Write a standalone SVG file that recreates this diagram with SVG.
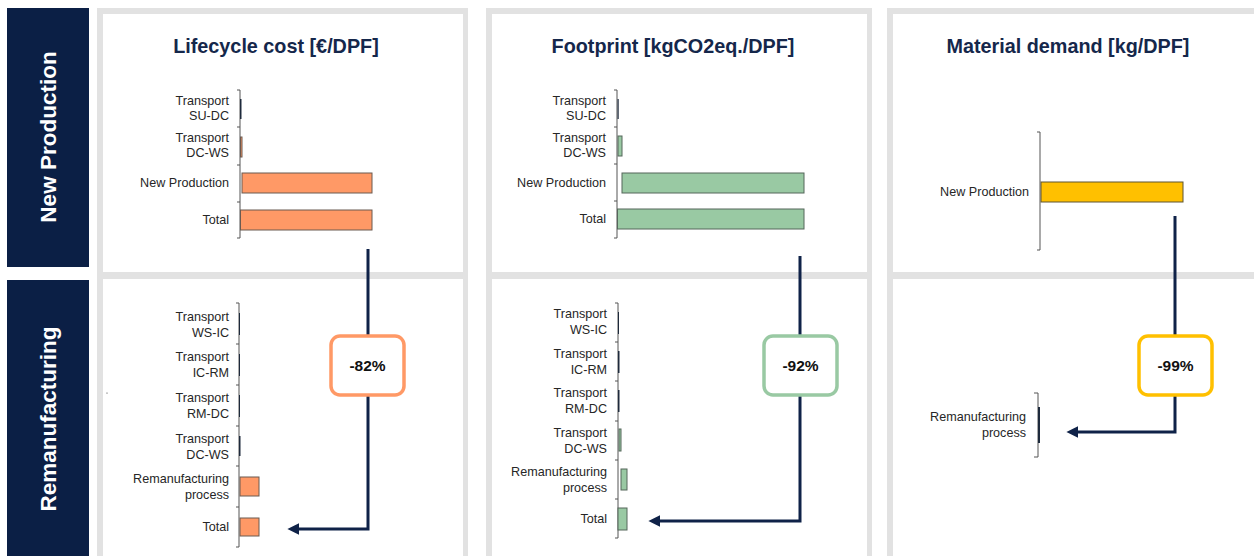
<svg xmlns="http://www.w3.org/2000/svg" width="1254" height="556" viewBox="0 0 1254 556">
  <defs>
    <style>
      .side { fill: #0b1f45; }
      .side-text { font-family: "Liberation Sans", Arial, sans-serif; font-size: 22.5px; font-weight: bold; fill: #ffffff; text-anchor: middle; }
      .frame { fill: #e2e2e2; }
      .cell { fill: #ffffff; }
      .title { font-family: "Liberation Sans", Arial, sans-serif; font-size: 19.8px; font-weight: bold; fill: #15274b; text-anchor: middle; }
      .lbl { font-family: "Liberation Sans", Arial, sans-serif; font-size: 12.6px; fill: #262626; text-anchor: end; }
      .axis { fill: none; stroke: #555555; stroke-width: 1; }
      .bar-o { fill: #ff9966; stroke: #6b5a50; stroke-width: 1; }
      .bar-g { fill: #99c9a3; stroke: #55665a; stroke-width: 1; }
      .bar-y { fill: #ffc000; stroke: #5e5432; stroke-width: 1; }
      .tiny { fill: #1e2a3c; }
      .flow { fill: none; stroke: #0f2248; stroke-width: 3; }
      .badge { fill: #ffffff; stroke-width: 3.5; }
      .badge-text { font-family: "Liberation Sans", Arial, sans-serif; font-size: 15.5px; font-weight: bold; fill: #111111; text-anchor: middle; }
    </style>
    <marker id="head" viewBox="0 0 10 10" refX="2" refY="5" markerWidth="4" markerHeight="4" orient="auto">
      <path d="M0,0 L10,5 L0,10 Z" fill="#0f2248"/>
    </marker>
  </defs>

  <rect width="1254" height="556" fill="#ffffff"/>

  <!-- row headers -->
  <g id="row-new">
    <rect class="side" x="7" y="8" width="82" height="259"/>
    <text class="side-text" transform="translate(56,137) rotate(-90)">New Production</text>
  </g>
  <g id="row-reman">
    <rect class="side" x="7" y="280" width="82" height="276"/>
    <text class="side-text" transform="translate(56,419) rotate(-90)">Remanufacturing</text>
  </g>

  <!-- column frames -->
  <g id="frames">
    <rect class="frame" x="97" y="8" width="371" height="548"/>
    <rect class="cell" x="103" y="14" width="360" height="258"/>
    <rect class="cell" x="103" y="279" width="360" height="277"/>

    <rect class="frame" x="486" y="8" width="386" height="548"/>
    <rect class="cell" x="492" y="14" width="375" height="258"/>
    <rect class="cell" x="492" y="279" width="375" height="277"/>

    <rect class="frame" x="887" y="8" width="367" height="548"/>
    <rect class="cell" x="893" y="14" width="361" height="258"/>
    <rect class="cell" x="893" y="279" width="361" height="277"/>
  </g>

  <!-- Lifecycle cost -->
  <g id="cost-new">
    <text class="title" x="276" y="53">Lifecycle cost [€/DPF]</text>
    <path class="axis" d="M237,90 H240 V238 H237 M237,127 H240 M237,165 H240 M237,202 H240"/>
    <rect class="tiny" x="240" y="99" width="1.5" height="20"/>
    <rect class="bar-o" x="240.5" y="137" width="1.5" height="20"/>
    <rect class="bar-o" x="242" y="173" width="130" height="20"/>
    <rect class="bar-o" x="240.5" y="210" width="131.5" height="20"/>
    <text class="lbl" x="229" y="105">Transport</text>
    <text class="lbl" x="229" y="120">SU-DC</text>
    <text class="lbl" x="229" y="142">Transport</text>
    <text class="lbl" x="229" y="157">DC-WS</text>
    <text class="lbl" x="229" y="187">New Production</text>
    <text class="lbl" x="229" y="224">Total</text>
  </g>
  <g id="cost-reman">
    <path class="axis" d="M236,303 H239 V547 H236 M236,344 H239 M236,385 H239 M236,426 H239 M236,466 H239 M236,507 H239"/>
    <rect class="tiny" x="239" y="313" width="1" height="22"/>
    <rect class="tiny" x="239" y="354" width="1" height="22"/>
    <rect class="tiny" x="239" y="395" width="1" height="22"/>
    <rect class="tiny" x="239" y="436" width="1.5" height="20"/>
    <rect class="bar-o" x="240" y="477" width="19" height="19"/>
    <rect class="bar-o" x="240" y="518" width="19" height="18"/>
    <text class="lbl" x="229" y="321">Transport</text>
    <text class="lbl" x="229" y="337">WS-IC</text>
    <text class="lbl" x="229" y="361">Transport</text>
    <text class="lbl" x="229" y="377">IC-RM</text>
    <text class="lbl" x="229" y="402">Transport</text>
    <text class="lbl" x="229" y="418">RM-DC</text>
    <text class="lbl" x="229" y="443">Transport</text>
    <text class="lbl" x="229" y="459">DC-WS</text>
    <text class="lbl" x="229" y="483">Remanufacturing</text>
    <text class="lbl" x="229" y="499">process</text>
    <text class="lbl" x="229" y="531">Total</text>
    <circle cx="107" cy="393" r="0.6" fill="#333333"/>
  </g>

  <!-- Footprint -->
  <g id="footprint-new">
    <text class="title" x="673" y="53">Footprint [kgCO2eq./DPF]</text>
    <path class="axis" d="M614,90 H617 V238 H614 M614,127 H617 M614,164 H617 M614,201 H617"/>
    <rect class="tiny" x="617.5" y="99" width="1.2" height="20"/>
    <rect class="bar-g" x="618" y="136" width="4" height="20"/>
    <rect class="bar-g" x="622" y="173" width="182" height="20"/>
    <rect class="bar-g" x="617.5" y="209" width="186.5" height="20"/>
    <text class="lbl" x="606" y="105">Transport</text>
    <text class="lbl" x="606" y="120">SU-DC</text>
    <text class="lbl" x="606" y="142">Transport</text>
    <text class="lbl" x="606" y="157">DC-WS</text>
    <text class="lbl" x="606" y="187">New Production</text>
    <text class="lbl" x="606" y="223">Total</text>
  </g>
  <g id="footprint-reman">
    <path class="axis" d="M615,303 H618 V538 H615 M615,342 H618 M615,381 H618 M615,421 H618 M615,460 H618 M615,499 H618"/>
    <rect class="tiny" x="618" y="312" width="1" height="22"/>
    <rect class="tiny" x="618" y="351" width="1.5" height="22"/>
    <rect class="tiny" x="618" y="390" width="1.5" height="22"/>
    <rect class="bar-g" x="619" y="429" width="2" height="22"/>
    <rect class="bar-g" x="621" y="469" width="6" height="21"/>
    <rect class="bar-g" x="618" y="508" width="9" height="22"/>
    <text class="lbl" x="607" y="318">Transport</text>
    <text class="lbl" x="607" y="334">WS-IC</text>
    <text class="lbl" x="607" y="358">Transport</text>
    <text class="lbl" x="607" y="374">IC-RM</text>
    <text class="lbl" x="607" y="397">Transport</text>
    <text class="lbl" x="607" y="413">RM-DC</text>
    <text class="lbl" x="607" y="437">Transport</text>
    <text class="lbl" x="607" y="453">DC-WS</text>
    <text class="lbl" x="607" y="476">Remanufacturing</text>
    <text class="lbl" x="607" y="492">process</text>
    <text class="lbl" x="607" y="523">Total</text>
  </g>

  <!-- Material demand -->
  <g id="material-new">
    <text class="title" x="1068" y="53">Material demand [kg/DPF]</text>
    <path class="axis" d="M1037,132 H1040 V250 H1037"/>
    <rect class="bar-y" x="1041" y="182" width="142" height="20"/>
    <text class="lbl" x="1029" y="196">New Production</text>
  </g>
  <g id="material-reman">
    <path class="axis" d="M1034,393 H1038 V457 H1034"/>
    <rect class="tiny" x="1038" y="407" width="2" height="36" fill="#0f2248"/>
    <text class="lbl" x="1026" y="421">Remanufacturing</text>
    <text class="lbl" x="1026" y="437">process</text>
  </g>

  <!-- reduction connectors -->
  <g id="connectors">
    <path class="flow" d="M368,249 V529 H297" marker-end="url(#head)"/>
    <path class="flow" d="M800,256 V521 H658" marker-end="url(#head)"/>
    <path class="flow" d="M1175,216 V432 H1076" marker-end="url(#head)"/>
  </g>

  <!-- reduction badges -->
  <g id="badge-cost">
    <rect class="badge" x="331" y="336" width="73" height="59" rx="9" stroke="#ff9966"/>
    <text class="badge-text" x="367.5" y="371">-82%</text>
  </g>
  <g id="badge-footprint">
    <rect class="badge" x="764" y="336" width="73" height="59" rx="9" stroke="#99c9a3"/>
    <text class="badge-text" x="800.5" y="371">-92%</text>
  </g>
  <g id="badge-material">
    <rect class="badge" x="1139" y="336" width="73" height="59" rx="9" stroke="#ffc000"/>
    <text class="badge-text" x="1175.5" y="371">-99%</text>
  </g>
</svg>
